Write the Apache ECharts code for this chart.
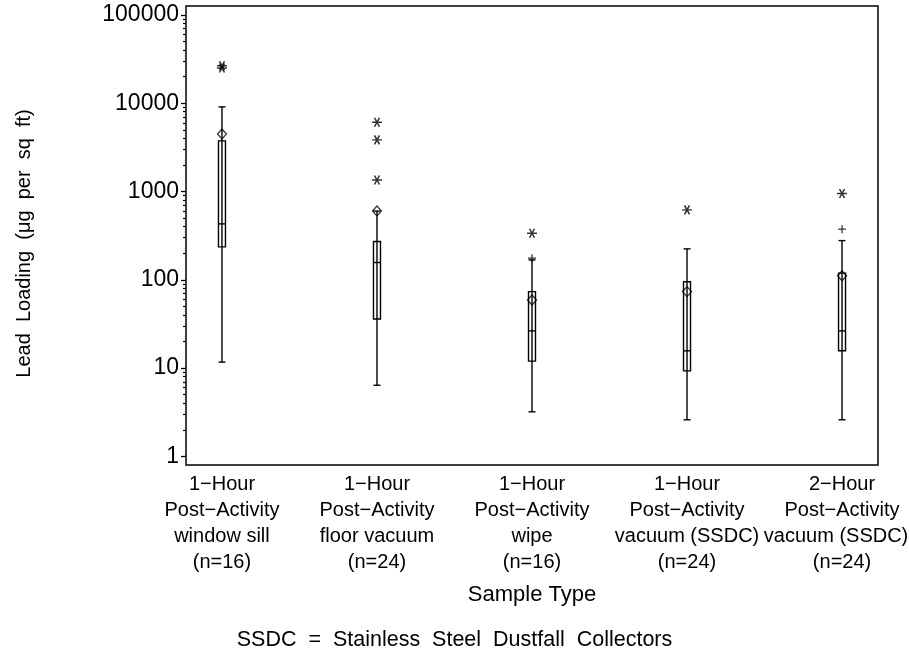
<!DOCTYPE html>
<html>
<head>
<meta charset="utf-8">
<script src="https://cdn.jsdelivr.net/npm/echarts@6/dist/echarts.min.js"></script>
<style>
  html, body { margin: 0; padding: 0; background: #fff; overflow: hidden; }
  #chart { width: 909px; height: 655px; }
</style>
</head>
<body>
<div id="chart"></div>
<script>
// sample types on the x axis
const categories = [
  '1\u2212Hour\nPost\u2212Activity\nwindow sill\n(n=16)',
  '1\u2212Hour\nPost\u2212Activity\nfloor vacuum\n(n=24)',
  '1\u2212Hour\nPost\u2212Activity\nwipe\n(n=16)',
  '1\u2212Hour\nPost\u2212Activity\nvacuum (SSDC)\n(n=24)',
  '2\u2212Hour\nPost\u2212Activity\nvacuum (SSDC)\n(n=24)'
];
// box statistics, µg per sq ft
const minVals = [11.7, 6.4, 3.2, 2.6, 2.6];
const q1Vals = [236, 36, 12, 9.3, 15.7];
const medianVals = [430, 157, 26.4, 15.7, 26.4];
const q3Vals = [3740, 271, 73.5, 95, 119];
const maxVals = [9080, 600, 168, 224, 278];
const meanVals = [4490, 603, 59, 73.5, 111];
// outliers as [category index, value]
const farOutliers = [[0, 25000], [0, 26500], [1, 6090], [1, 3840], [1, 1350], [2, 337], [3, 619], [4, 950]];
const nearOutliers = [[2, 176], [4, 374]];
// y tick labels
const tickLabels = [1, 10, 100, 1000, 10000, 100000];

const font = "'Liberation Sans', Arial, sans-serif";
const lg = v => Math.log10(v);

const majorTicks = tickLabels.map(lg);
const minorTicks = [];
for (let d = 0; d < 5; d++) {
  for (let k = 2; k <= 9; k++) minorTicks.push(lg(k * Math.pow(10, d)));
}

const boxData = categories.map((c, i) => [
  i, lg(minVals[i]), lg(q1Vals[i]), lg(medianVals[i]), lg(q3Vals[i]), lg(maxVals[i])
]);
const meanData = meanVals.map((v, i) => [i, lg(v)]);
const farData = farOutliers.map(d => [d[0], lg(d[1])]);
const nearData = nearOutliers.map(d => [d[0], lg(d[1])]);

const lineStyle = { stroke: '#000', lineWidth: 1.4, fill: null };

function renderBox(params, api) {
  const x = api.value(0);
  const half = 3.5;
  const pMin = api.coord([x, api.value(1)]);
  const pQ1 = api.coord([x, api.value(2)]);
  const pMed = api.coord([x, api.value(3)]);
  const pQ3 = api.coord([x, api.value(4)]);
  const pMax = api.coord([x, api.value(5)]);
  const cx = pMin[0];
  const hline = y => ({ type: 'line', shape: { x1: cx - half, y1: y, x2: cx + half, y2: y }, style: lineStyle });
  return {
    type: 'group',
    children: [
      { type: 'line', shape: { x1: cx, y1: pMin[1], x2: cx, y2: pMax[1] }, style: lineStyle },
      hline(pMin[1]),
      hline(pMax[1]),
      { type: 'rect', shape: { x: cx - half, y: pQ3[1], width: half * 2, height: pQ1[1] - pQ3[1] }, style: lineStyle },
      hline(pMed[1])
    ]
  };
}

// the last label's long line is pulled in so it stays on the page
function xLabel(v) {
  const i = Math.round(v);
  const lines = categories[i].split('\n');
  if (i === categories.length - 1) lines[2] = '{edge|' + lines[2] + '}';
  return lines.join('\n');
}

const chart = echarts.init(document.getElementById('chart'));
const yMin = lg(0.8);
const yMax = lg(126000);

chart.setOption({
  animation: false,
  backgroundColor: '#fff',
  textStyle: { fontFamily: font, color: '#000' },
  title: {
    text: 'SSDC  =  Stainless  Steel  Dustfall  Collectors',
    left: 'center',
    top: 624,
    textStyle: { fontFamily: font, fontSize: 21.5, fontWeight: 'normal', color: '#000' }
  },
  grid: {
    left: 186, right: 31, top: 6, bottom: 190,
    outerBoundsMode: 'none',
    show: true, borderColor: '#000', borderWidth: 1.5, backgroundColor: 'transparent'
  },
  xAxis: {
    type: 'value',
    min: -0.232,
    max: 4.232,
    axisLine: { show: false, onZero: false },
    axisTick: { show: false },
    splitLine: { show: false },
    axisLabel: {
      customValues: [0, 1, 2, 3, 4],
      formatter: xLabel,
      color: '#000', fontFamily: font, fontSize: 20, lineHeight: 26, margin: 6,
      rich: {
        edge: { color: '#000', fontFamily: font, fontSize: 20, lineHeight: 26, padding: [0, 12, 0, 0] }
      }
    },
    name: 'Sample Type',
    nameLocation: 'middle',
    nameGap: 119,
    nameTextStyle: { color: '#000', fontFamily: font, fontSize: 22 }
  },
  yAxis: [
    {
      type: 'value',
      min: yMin,
      max: yMax,
      axisLine: { show: false, onZero: false },
      splitLine: { show: false },
      axisTick: { show: true, customValues: majorTicks, length: 5, lineStyle: { color: '#000', width: 1.3 } },
      axisLabel: {
        customValues: majorTicks,
        formatter: v => String(tickLabels[Math.round(v)]),
        color: '#000', fontFamily: font, fontSize: 23, margin: 7
      },
      name: 'Lead  Loading  (\u03bcg  per  sq  ft)',
      nameLocation: 'middle',
      nameGap: 152,
      nameRotate: 90,
      nameTextStyle: { color: '#000', fontFamily: font, fontSize: 20, padding: [0, 16, 0, 0] }
    },
    {
      type: 'value',
      position: 'left',
      min: yMin,
      max: yMax,
      axisLine: { show: false, onZero: false },
      splitLine: { show: false },
      axisLabel: { show: false },
      axisTick: { show: true, customValues: minorTicks, length: 3, lineStyle: { color: '#000', width: 1.2 } }
    }
  ],
  series: [
    {
      name: 'box',
      type: 'custom',
      renderItem: renderBox,
      encode: { x: 0, y: [1, 2, 3, 4, 5] },
      data: boxData,
      silent: true
    },
    {
      name: 'mean',
      type: 'scatter',
      data: meanData,
      symbol: 'diamond',
      symbolSize: [9, 10],
      itemStyle: { color: 'rgba(0,0,0,0)', borderColor: '#000', borderWidth: 1.3 },
      z: 3
    },
    {
      name: 'far outliers',
      type: 'scatter',
      data: farData,
      symbol: 'path://M0,5L10,5M2.5,0.67L7.5,9.33M2.5,9.33L7.5,0.67',
      symbolSize: [10, 9],
      itemStyle: { color: 'rgba(0,0,0,0)', borderColor: '#000', borderWidth: 1.5 },
      z: 3
    },
    {
      name: 'near outliers',
      type: 'scatter',
      data: nearData,
      symbol: 'path://M4,0L4,8M0,4L8,4',
      symbolSize: 8,
      itemStyle: { color: 'rgba(0,0,0,0)', borderColor: '#000', borderWidth: 1.3 },
      z: 3
    }
  ]
});
</script>
</body>
</html>
